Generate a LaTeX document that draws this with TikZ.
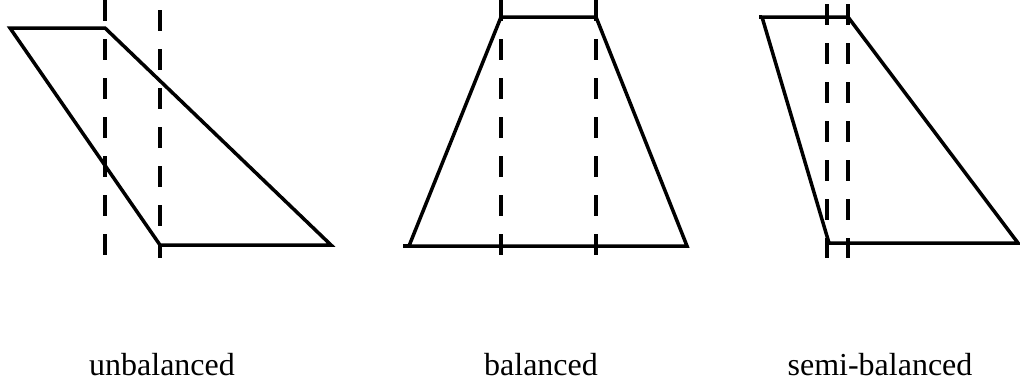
\documentclass[tikz,border=0pt]{standalone}
\usepackage{fontspec}
\setmainfont{Liberation Serif}
\usepackage{tikz}

\begin{document}
\begin{tikzpicture}[x=1pt,y=-1pt,line width=3.5pt,
    outline/.style={line join=miter},
    guide/.style={line width=4pt,dash pattern=on 21pt off 18pt},
    caption/.style={anchor=base,font=\fontsize{32}{38}\selectfont}]
    \useasboundingbox (0,0) rectangle (1020,388);
    % unbalanced
    \draw [outline] (10,28) -- (105,28) -- (331,245) -- (160,245) -- cycle;
    \draw [guide] (105,0) -- (105,257);
    \draw [guide] (160,10) -- (160,258);
    \node [caption] (unb) at (162,375) {unbalanced};
    % balanced
    \draw [outline] (501,17) -- (596,17) -- (687,246) -- (409,246) -- cycle;
    \draw (403,246) -- (409,246);
    \draw [guide] (501,0) -- (501,257);
    \draw [guide] (596,0) -- (596,257);
    \node [caption] (bal) at (541,375) {balanced};
    % semi-balanced
    \draw [outline] (762,17) -- (848,17) -- (1018,243) -- (829,243) -- cycle;
    \draw (759,17) -- (762,17);
    \draw [guide] (827,4) -- (827,258);
    \draw [guide] (848,4) -- (848,258);
    \node [caption] (semi) at (880,375) {semi-balanced};
  \end{tikzpicture}
\end{document}
